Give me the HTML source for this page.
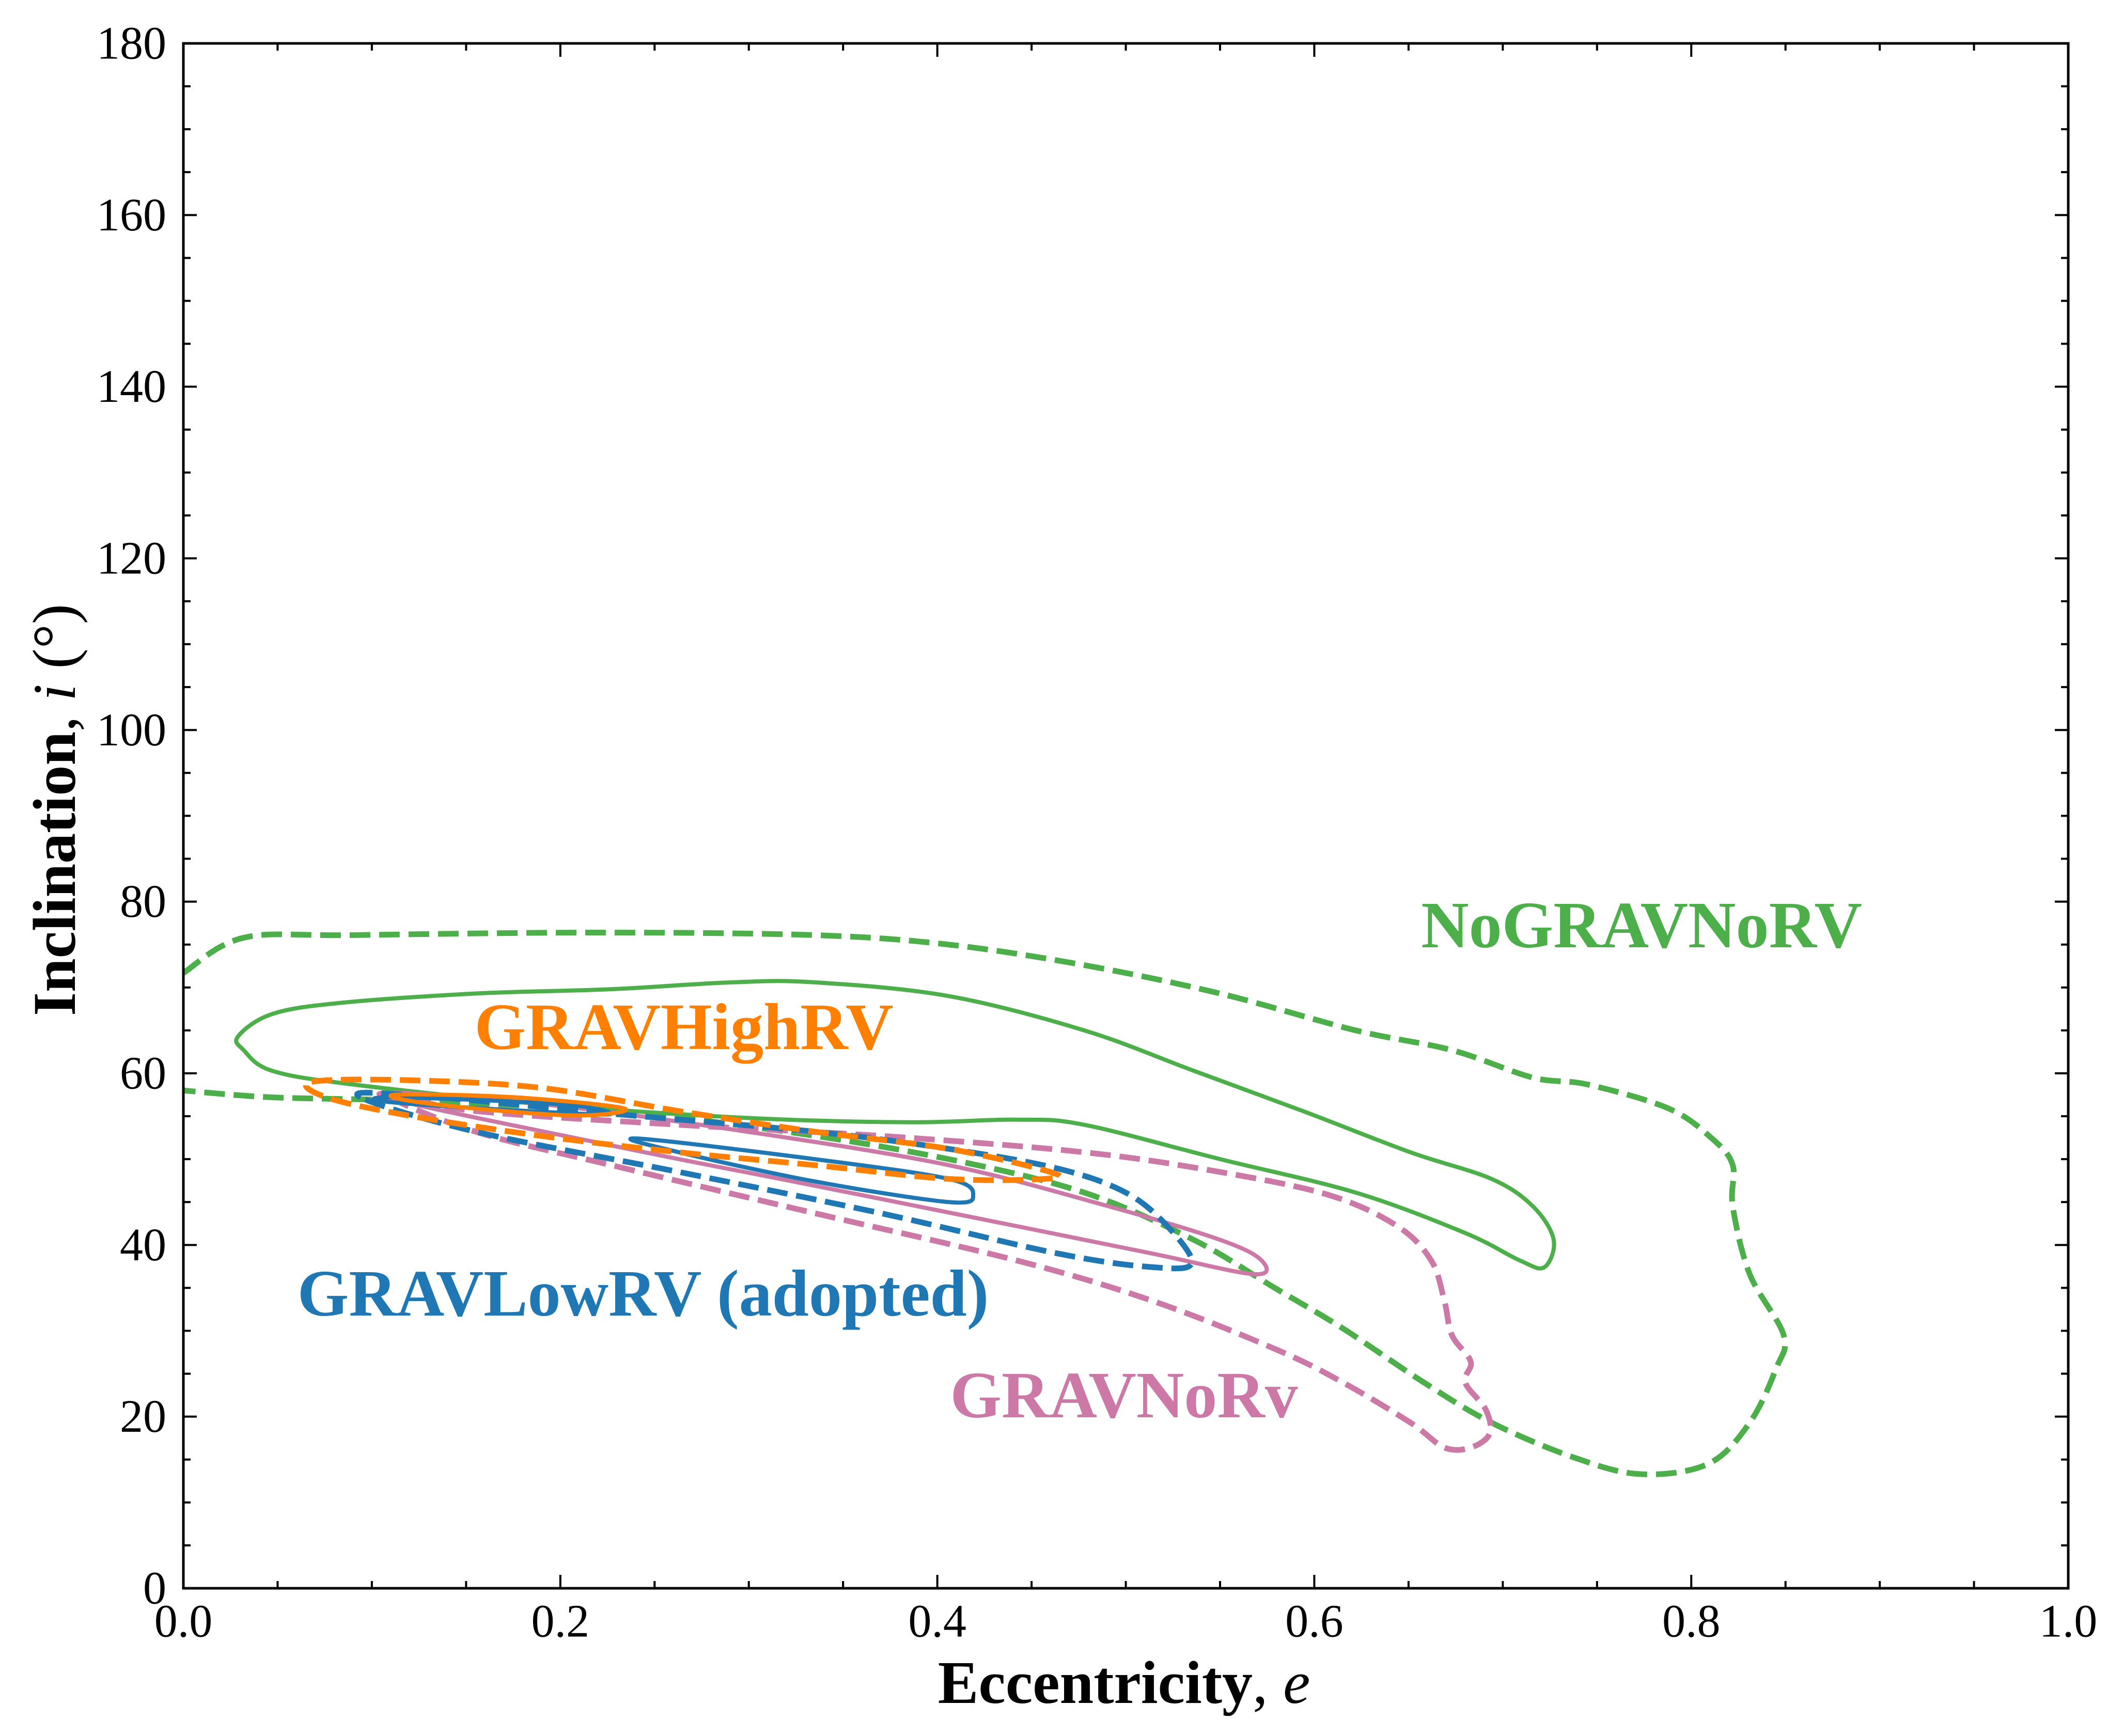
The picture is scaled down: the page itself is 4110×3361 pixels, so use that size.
<!DOCTYPE html>
<html><head><meta charset="utf-8"><style>
html,body{margin:0;padding:0;background:#fff;}
svg{display:block;}
text{font-family:"Liberation Serif",serif;}
</style></head><body>
<svg id="chart" width="4110" height="3361" viewBox="0 0 4110 3361" xmlns="http://www.w3.org/2000/svg">
<g id="ticks"></g>
<g id="contours"></g>
<rect x="355" y="84" width="3649" height="2991" fill="none" stroke="#000" stroke-width="5"/>
<g id="labels"></g>
<text x="2176" y="3257" font-size="118" text-anchor="middle" dominant-baseline="central"><tspan font-weight="bold">Eccentricity</tspan>, <tspan font-style="italic">e</tspan></text>
<text transform="translate(105,1568) rotate(-90)" font-size="118" text-anchor="middle" dominant-baseline="central"><tspan font-weight="bold">Inclination</tspan>, <tspan font-style="italic">i</tspan> (°)</text>
<text x="3178" y="1791" font-size="128" font-weight="bold" fill="#4daf4a" text-anchor="middle" dominant-baseline="central">NoGRAVNoRV</text>
<text x="1324" y="1988" font-size="128" font-weight="bold" fill="#ff7f00" text-anchor="middle" dominant-baseline="central">GRAVHighRV</text>
<text x="1245" y="2504" font-size="128" font-weight="bold" fill="#1f78b4" text-anchor="middle" dominant-baseline="central">GRAVLowRV (adopted)</text>
<text x="2176" y="2701" font-size="128" font-weight="bold" fill="#cc79a7" text-anchor="middle" dominant-baseline="central">GRAVNoRv</text>
</svg>
<script>
const xTicks=[0,0.2,0.4,0.6,0.8,1.0];
const xTickLabels=["0.0","0.2","0.4","0.6","0.8","1.0"];
const yTicks=[0,20,40,60,80,100,120,140,160,180];
const greenDashE=[0.0,0.032,0.09,0.22,0.335,0.406,0.478,0.55,0.622,0.673,0.716,0.745,0.788,0.811,0.822,0.822,0.831,0.849,0.845,0.831,0.809,0.773,0.737,0.694,0.658,0.615,0.579,0.536,0.478,0.406,0.32,0.227,0.119,0.047,0.0];
const greenDashI=[71.7,75.8,76.1,76.4,76.1,75,72.6,69.3,65,62.7,59.5,58.7,55.9,52.4,49.3,44.5,36.6,29.5,25.6,19.3,14.5,13.3,15.3,19.3,24,30.3,35,40.6,46.1,50,53.2,55.6,56.8,57.2,58];
const greenSolidE=[0.029,0.032,0.047,0.09,0.19,0.299,0.385,0.442,0.478,0.55,0.622,0.68,0.709,0.722,0.727,0.716,0.694,0.651,0.594,0.536,0.478,0.406,0.335,0.291,0.227,0.155,0.083,0.047];
const greenSolidI=[64.3,62.7,60.3,58.7,56.4,54.8,54.3,54.6,54,50,46.1,41.4,38.2,37.4,40.6,44.5,47.7,50.8,55.6,60.3,65,69,70.6,70.6,69.8,69.3,68.2,66.9];
const pinkDashE=[0.108,0.155,0.263,0.371,0.478,0.55,0.608,0.644,0.662,0.669,0.673,0.683,0.68,0.691,0.693,0.683,0.669,0.651,0.615,0.579,0.514,0.442,0.335,0.227,0.155];
const pinkDashI=[57.5,55.6,54,52.7,50.8,48.5,45.8,42.2,38.2,33.5,29.5,26.4,24,20.8,18,16.4,16.4,19.3,24,27.9,33.5,38.2,43.7,49.3,53.2];
const pinkSolidE=[0.104,0.227,0.335,0.442,0.514,0.568,0.572,0.55,0.491,0.406,0.299,0.19];
const pinkSolidI=[57.5,51.6,46.9,42.2,39,36.6,38.2,40.6,44.5,49.3,53.2,56.4];
const blueDashE=[0.094,0.119,0.227,0.335,0.406,0.464,0.5,0.522,0.535,0.515,0.464,0.37,0.263,0.155];
const blueDashI=[57.2,57.5,55.3,53.2,51.2,48.9,46.1,42.2,37.9,37.4,39,43.7,48.5,53.2];
const blueSolidE=[0.241,0.335,0.406,0.419,0.406,0.335,0.263];
const blueSolidI=[52.4,50,47.7,45.8,45,47.4,50.8];
const blueSmallE=[0.112,0.2,0.227,0.2,0.112];
const blueSmallI=[57.2,56.4,55.3,55.4,56.6];
const orangeDashE=[0.068,0.119,0.19,0.263,0.335,0.406,0.46,0.457,0.406,0.335,0.263,0.19,0.119,0.076];
const orangeDashI=[59,59.2,58.3,55.6,53.2,51.2,48.5,47.7,47.7,49.3,50.8,52.7,55.1,57.2];
const orangeSolidE=[0.112,0.176,0.234,0.205,0.133];
const orangeSolidI=[57.5,57.2,55.9,55.1,56.4];

const L=355,R=4004,T=84,B=3075;
const sx=v=>L+v*(R-L);
const sy=v=>B-v/180*(B-T);
const NS='http://www.w3.org/2000/svg';
function mk(tag,attrs,parent){const e=document.createElementNS(NS,tag);for(const k in attrs)e.setAttribute(k,attrs[k]);parent.appendChild(e);return e;}
const tg=document.getElementById('ticks'),lg=document.getElementById('labels'),cg=document.getElementById('contours');
for(let k=0;k<=20;k++){const v=k*0.05,x=sx(v),len=(k%4===0)?26:14;
 let t=mk('line',{x1:x,y1:B,x2:x,y2:B-len,stroke:'#000','stroke-width':4},tg);
 
 t=mk('line',{x1:x,y1:T,x2:x,y2:T+len,stroke:'#000','stroke-width':4},tg);
 }
for(let k=0;k<=36;k++){const v=k*5,y=sy(v),len=(k%4===0)?26:14;
 let t=mk('line',{x1:L,y1:y,x2:L+len,y2:y,stroke:'#000','stroke-width':4},tg);
 
 t=mk('line',{x1:R,y1:y,x2:R-len,y2:y,stroke:'#000','stroke-width':4},tg);
 }
xTicks.forEach((v,i)=>{const t=mk('text',{x:sx(v),y:3139,'font-size':90,'text-anchor':'middle','dominant-baseline':'central'},lg);t.textContent=xTickLabels[i];
 });
yTicks.forEach(v=>{const t=mk('text',{x:322,y:sy(v),'font-size':90,'text-anchor':'end','dominant-baseline':'central'},lg);t.textContent=String(v);
 });
function pathD(E,I,closed){const p=E.map((e,i)=>[sx(e),sy(I[i])]);const n=p.length;
 const g=i=>closed?p[(i+n)%n]:p[Math.max(0,Math.min(n-1,i))];
 let d='M'+p[0][0]+','+p[0][1];const segs=closed?n:n-1;
 for(let i=0;i<segs;i++){const p0=g(i-1),p1=g(i),p2=g(i+1),p3=g(i+2);
  const c1=[p1[0]+(p2[0]-p0[0])/6,p1[1]+(p2[1]-p0[1])/6],c2=[p2[0]-(p3[0]-p1[0])/6,p2[1]-(p3[1]-p1[1])/6];
  d+=`C${c1[0]},${c1[1]} ${c2[0]},${c2[1]} ${p2[0]},${p2[1]}`;}
 return d+(closed?'Z':'');}
function contour(E,I,color,dashed,closed,name){
 const a={d:pathD(E,I,closed),fill:'none',stroke:color,'stroke-width':dashed?11:8,'stroke-linejoin':'round'};
 if(dashed)a['stroke-dasharray']='40 17';
 const p=mk('path',a,cg);}
contour(greenDashE,greenDashI,'#4daf4a',true,false,'nogravnorv-outer-contour');
contour(greenSolidE,greenSolidI,'#4daf4a',false,true,'nogravnorv-inner-contour');
contour(pinkDashE,pinkDashI,'#cc79a7',true,true,'gravnorv-outer-contour');
contour(pinkSolidE,pinkSolidI,'#cc79a7',false,true,'gravnorv-inner-contour');
contour(blueDashE,blueDashI,'#1f78b4',true,true,'gravlowrv-outer-contour');
contour(blueSolidE,blueSolidI,'#1f78b4',false,true,'gravlowrv-inner-contour');
contour(blueSmallE,blueSmallI,'#1f78b4',false,true,'gravlowrv-inner-contour-small');
contour(orangeDashE,orangeDashI,'#ff7f00',true,true,'gravhighrv-outer-contour');
contour(orangeSolidE,orangeSolidI,'#ff7f00',false,true,'gravhighrv-inner-contour');
</script>
</body></html>
